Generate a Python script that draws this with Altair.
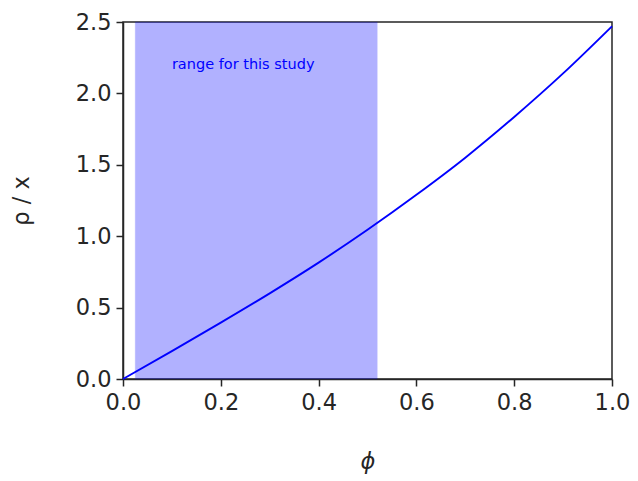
import altair as alt
import pandas as pd

phi = [0.0, 0.1, 0.2, 0.3, 0.4, 0.5, 0.6, 0.7, 0.8, 0.9, 1.0]
rho = [0.0, 0.195, 0.395, 0.600, 0.815, 1.045, 1.290, 1.550, 1.835, 2.140, 2.470]

span_start = [0.025]
span_end = [0.52]
label_text = ["range for this study"]
label_x = [0.1]
label_y = [2.2]

W, H = 489, 357

curve = pd.DataFrame({"phi": phi, "rho": rho})
span = pd.DataFrame({"x0": span_start, "x1": span_end, "y0": [0.0], "y1": [2.5]})
lab = pd.DataFrame({"x": label_x, "y": label_y, "t": label_text})

xscale = alt.Scale(domain=[0, 1], nice=False, zero=False)
yscale = alt.Scale(domain=[0, 2.5], nice=False, zero=False)

xaxis = alt.Axis(title="ϕ", values=[0, 0.2, 0.4, 0.6, 0.8, 1.0], format=".1f",
                 grid=False, titleFontStyle="italic", titlePadding=37, labelFlush=False)
yaxis = alt.Axis(title="ρ / x", values=[0, 0.5, 1.0, 1.5, 2.0, 2.5], format=".1f",
                 grid=False, titlePadding=42, labelFlush=False)

rect = alt.Chart(span).mark_rect(color="#0000ff", opacity=0.3, stroke="#0000ff",
                                 strokeOpacity=0.3, strokeWidth=1).encode(
    x=alt.X("x0:Q", scale=xscale, axis=xaxis),
    x2="x1:Q",
    y=alt.Y("y0:Q", scale=yscale, axis=yaxis),
    y2="y1:Q",
)

line = alt.Chart(curve).mark_line(color="#0000ff", strokeWidth=1.9,
                                  interpolate="monotone").encode(
    x=alt.X("phi:Q", scale=xscale),
    y=alt.Y("rho:Q", scale=yscale),
)

text = alt.Chart(lab).mark_text(color="#0000ff", fontSize=14.5, align="left",
                                baseline="middle", font="DejaVu Sans").encode(
    x=alt.X("x:Q", scale=xscale),
    y=alt.Y("y:Q", scale=yscale),
    text="t:N",
)

chart = alt.layer(rect, line, text).properties(
    width=W, height=H,
    autosize=alt.AutoSizeParams(type="none"),
    padding={"left": 115, "top": 14, "right": 18, "bottom": 100},
).configure_view(
    stroke="#262626", strokeWidth=1.5
).configure_axis(
    labelFont="DejaVu Sans", labelFontSize=22.5, labelColor="#262626",
    titleFont="DejaVu Sans", titleFontSize=22.5, titleColor="#262626", titleFontWeight="normal",
    tickSize=7, tickWidth=1.5, tickColor="#262626",
    domainColor="#262626", domainWidth=1.5, labelPadding=5,
)

chart.save("out.html", embed_options={"renderer": "svg", "actions": False})
